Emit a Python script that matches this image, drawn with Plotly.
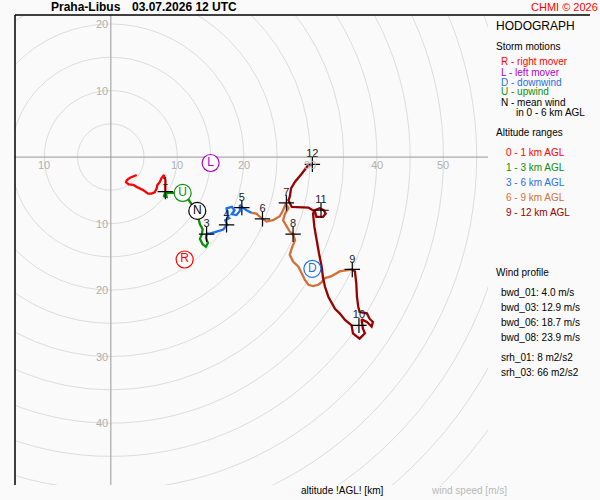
import plotly.graph_objects as go

station = "Praha-Libus"
run_time = "03.07.2026 12 UTC"

# hodograph by altitude range, u / v in m/s (v shown downward as negative)
u_0_1 = [3.9, 3.4, 2.9, 2.4, 2.3, 2.7, 3.4, 4.1, 4.9, 5.6, 6.1, 6.6, 6.9, 7.0, 7.4, 7.6, 8.0, 8.2, 8.2]
v_0_1 = [-2.7, -2.9, -3.1, -3.5, -3.8, -4.1, -4.2, -4.6, -5.0, -5.5, -5.5, -5.3, -4.7, -4.2, -3.7, -3.2, -2.7, -3.5, -5.2]

u_1_3 = [8.2, 8.0, 8.4, 8.3, 9.2, 10.1, 11.3, 12.0, 12.6, 13.1, 13.4, 13.8, 13.7, 13.4, 13.8, 14.3, 14.6, 14.3, 14.4]
v_1_3 = [-5.2, -5.9, -6.0, -5.4, -5.4, -5.4, -5.9, -6.8, -7.7, -8.9, -10.1, -10.8, -11.6, -12.3, -13.1, -13.5, -12.9, -12.2, -11.5]

u_3_6 = [14.4, 14.9, 15.9, 16.9, 17.5, 17.2, 17.8, 17.6, 17.4, 18.2, 18.6, 18.2, 18.9, 19.4, 19.4, 19.7, 20.4, 21.2]
v_3_6 = [-11.5, -11.5, -11.2, -10.9, -10.2, -9.5, -9.2, -9.0, -7.7, -7.5, -8.0, -8.6, -8.7, -8.1, -7.2, -7.5, -8.0, -8.4]

u_6_9 = [21.2, 21.9, 22.3, 22.8, 23.4, 24.4, 25.4, 25.9, 26.3, 26.7, 26.2, 25.9, 26.4, 26.9, 27.4, 27.7, 27.2, 26.9,
         27.4, 28.2, 28.7, 29.2, 29.7, 30.4, 31.2, 31.7, 32.2, 33.2, 34.4, 35.4, 36.3]
v_6_9 = [-8.4, -8.5, -8.9, -9.3, -9.7, -9.5, -8.9, -8.0, -7.0, -7.7, -8.5, -9.5, -10.4, -11.2, -11.6, -12.5, -13.7, -14.7,
         -15.7, -16.5, -17.5, -18.5, -19.2, -19.4, -19.2, -18.8, -18.2, -17.9, -17.2, -17.0, -16.9]

u_9_12 = [36.3, 36.7, 36.9, 37.0, 37.2, 37.4, 38.5, 38.9, 39.4, 39.2, 38.5, 37.7, 37.9, 38.2, 37.4, 36.4, 36.2, 35.2,
          34.4, 33.7, 32.7, 32.2, 31.9, 31.7, 31.3, 30.9, 30.6, 30.4, 30.7, 31.4, 32.0, 32.3, 31.9, 30.9, 30.7, 29.7,
          28.2, 27.2, 26.7, 26.9, 27.1, 27.7, 28.7, 29.7, 30.4]
v_9_12 = [-16.9, -17.2, -19.0, -21.0, -22.5, -23.3, -23.5, -24.3, -24.8, -25.5, -24.8, -24.4, -25.8, -26.5, -27.3, -26.5,
          -25.3, -24.5, -23.5, -22.8, -21.0, -19.5, -18.2, -16.5, -14.5, -12.5, -10.5, -8.5, -8.0, -7.7, -8.0, -8.5,
          -9.0, -9.0, -8.2, -7.6, -7.6, -7.5, -6.5, -6.0, -4.7, -3.7, -2.5, -1.2, -1.2]

# altitude marks [km]
level_labels = ["1", "3", "4", "5", "6", "7", "8", "9", "10", "11", "12"]
level_u = [8.2, 14.4, 17.4, 19.7, 22.8, 26.4, 27.4, 36.3, 37.3, 31.6, 30.3]
level_v = [-5.2, -11.6, -10.2, -7.6, -9.3, -6.9, -11.6, -16.9, -25.3, -8.0, -1.1]

# storm motions
motion_labels = ["R", "L", "D", "U", "N"]
motion_u = [11.1, 15.0, 30.3, 10.8, 13.0]
motion_v = [-15.4, -0.9, -16.8, -5.4, -8.1]

bwd_names = ["bwd_01", "bwd_03", "bwd_06", "bwd_08"]
bwd_values = [4.0, 12.9, 18.7, 23.9]
srh_names = ["srh_01", "srh_03"]
srh_values = [8, 66]

RED = "#ff0000"
PURPLE = "#b000c8"
BLUE = "#1f6fe8"
GREEN = "#0a8f0a"
ORANGE = "#d2703a"
DARKRED = "#990000"
motion_colors = [RED, PURPLE, BLUE, GREEN, "#000000"]
FONT = "Liberation Sans, Arial, sans-serif"

XR = [-14.4, 56.7]
YR = [-49.3, 21.35]

fig = go.Figure()

segments = [(u_0_1, v_0_1, RED), (u_1_3, v_1_3, GREEN), (u_3_6, v_3_6, BLUE),
            (u_6_9, v_6_9, ORANGE), (u_9_12, v_9_12, DARKRED)]
for su, sv, col in segments:
    fig.add_trace(go.Scatter(x=su, y=sv, mode="lines", line=dict(color=col, width=2.3),
                             hoverinfo="skip", showlegend=False))

fig.add_trace(go.Scatter(
    x=level_u, y=level_v, mode="markers",
    marker=dict(symbol="cross-thin", size=11, line=dict(color="#000", width=1.2)),
    showlegend=False, hoverinfo="skip"))
# labels: invisible marker just to lift the text a bit above the cross
fig.add_trace(go.Scatter(
    x=level_u, y=level_v, mode="markers+text", text=level_labels, textposition="top center",
    textfont=dict(family=FONT, size=11, color="#222"),
    marker=dict(size=5, color="rgba(0,0,0,0)"),
    showlegend=False, hoverinfo="skip"))

fig.add_trace(go.Scatter(
    x=motion_u, y=motion_v, mode="markers+text", text=motion_labels, textposition="middle center",
    textfont=dict(family=FONT, size=12, color=motion_colors),
    marker=dict(symbol="circle", size=17, color="#fff", line=dict(color=motion_colors, width=1.2)),
    showlegend=False, hoverinfo="skip"))

# range circles
shapes = []
for r in range(5, 80, 5):
    shapes.append(dict(type="circle", xref="x", yref="y", x0=-r, x1=r, y0=-r, y1=r,
                       line=dict(color="#dcdcdc", width=1), layer="below"))
shapes.append(dict(type="line", xref="x", yref="y", x0=0, x1=0, y0=YR[0], y1=YR[1],
                   line=dict(color="#a8a8a8", width=1.2), layer="below"))
shapes.append(dict(type="line", xref="x", yref="y", x0=XR[0], x1=XR[1], y0=0, y1=0,
                   line=dict(color="#a8a8a8", width=1.2), layer="below"))
# frame: top and left
shapes.append(dict(type="line", xref="paper", yref="paper", x0=0, x1=1.2156, y0=1, y1=1,
                   line=dict(color="#000", width=1.5)))
shapes.append(dict(type="line", xref="paper", yref="paper", x0=0, x1=0, y0=0, y1=1,
                   line=dict(color="#000", width=1.5)))

ann = []
grey = dict(family=FONT, size=11, color="#b0b0b0")
for r in [-10, 10, 20, 30, 40, 50]:
    ann.append(dict(x=r, y=-1.2, xref="x", yref="y", text=str(abs(r)), showarrow=False,
                    font=grey, xanchor="center", yanchor="middle"))
for r in [20, 10, -10, -20, -30, -40]:
    ann.append(dict(x=-0.15, y=r, xref="x", yref="y", text=str(abs(r)), showarrow=False,
                    font=grey, xanchor="right", yanchor="middle"))


def px(x):
    return (x - 15) / 473


def py(y):
    return (485 - y) / 470


def txt(x, y, s, color="#000", size=11, bold=False):
    if bold:
        s = "<b>" + s + "</b>"
    ann.append(dict(x=px(x), y=py(y), xref="paper", yref="paper", text=s, showarrow=False,
                    xanchor="left", yanchor="middle", font=dict(family=FONT, size=size, color=color)))


txt(49, 7, station, size=12, bold=True)
txt(130, 7, run_time, size=12, bold=True)
txt(529, 7, "CHMI © 2026", color=RED, size=11)

txt(494, 26, "HODOGRAPH", size=12)
txt(494, 47, "Storm motions", size=10)
motion_text = ["R - right mover", "L - left mover", "D - downwind", "U - upwind", "N - mean wind"]
for i, s in enumerate(motion_text):
    txt(499, 62 + 10 * i, s, color=motion_colors[i], size=10)
txt(514, 112, "in 0 - 6 km AGL", size=10)

txt(494, 132, "Altitude ranges", size=10)
range_text = ["0 - 1 km AGL", "1 - 3 km AGL", "3 - 6 km AGL", "6 - 9 km AGL", "9 - 12 km AGL"]
range_colors = [RED, GREEN, BLUE, ORANGE, DARKRED]
for i, s in enumerate(range_text):
    txt(504, 152 + 15 * i, s, color=range_colors[i], size=10)

txt(494, 272, "Wind profile", size=10)
for i, (n, v) in enumerate(zip(bwd_names, bwd_values)):
    txt(499, 292 + 15 * i, f"{n}: {v:.1f} m/s", size=10)
for i, (n, v) in enumerate(zip(srh_names, srh_values)):
    txt(499, 357 + 15 * i, f"{n}: {v} m2/s2", size=10)

txt(299, 491, "altitude !AGL! [km]", size=10)
txt(429, 491, "wind speed [m/s]", color="#b8b8b8", size=10)

fig.update_layout(
    width=600, height=500,
    margin=dict(l=15, r=112, t=15, b=15),
    paper_bgcolor="#fafafa", plot_bgcolor="#fafafa",
    xaxis=dict(range=XR, showgrid=False, zeroline=False, showticklabels=False, showline=False),
    yaxis=dict(range=YR, showgrid=False, zeroline=False, showticklabels=False, showline=False),
    shapes=shapes, annotations=ann, showlegend=False,
)

fig.write_html("out.html", config={"displayModeBar": False},
               post_script="document.body.style.margin='0px';")
